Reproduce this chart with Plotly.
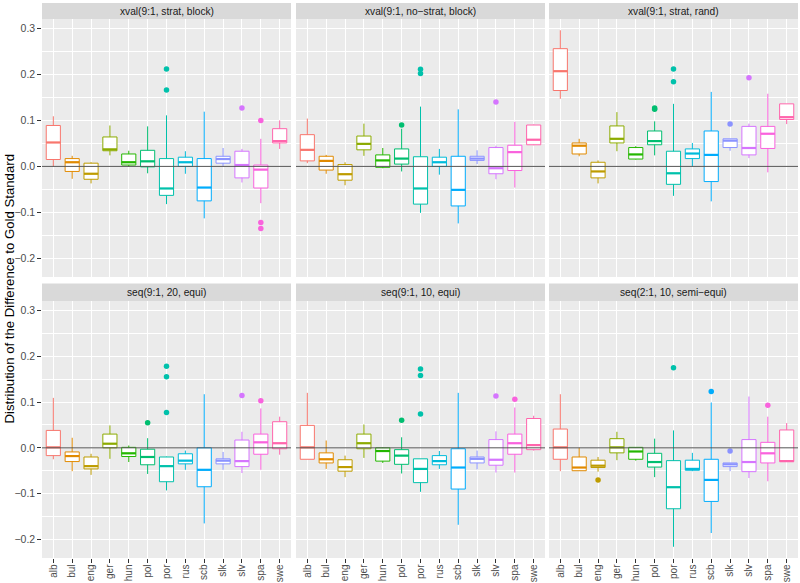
import plotly.graph_objects as go

LANGS = ["alb", "bul", "eng", "ger", "hun", "pol", "por", "rus", "scb", "slk", "slv", "spa", "swe"]
FACETS = ["xval(9:1, strat, block)", "xval(9:1, no\u2212strat, block)", "xval(9:1, strat, rand)",
          "seq(9:1, 20, equi)", "seq(9:1, 10, equi)", "seq(2:1, 10, semi\u2212equi)"]
COLORS = ["#F8766D", "#E18A00", "#BE9C00", "#8CAB00", "#24B700", "#00BE70", "#00C1AB",
          "#00BBDA", "#00ACFC", "#8B93FF", "#D575FE", "#F962DD", "#FF65AC"]

LOWER = [
    [0.0, -0.027, -0.037, 0.024, -0.001, -0.015, -0.082, -0.016, -0.113, 0.001, -0.035, -0.080, 0.038],
    [0.007, -0.016, -0.041, 0.023, -0.004, -0.011, -0.101, -0.018, -0.124, 0.005, -0.028, -0.046, 0.046],
    [0.147, 0.022, -0.037, 0.033, 0.015, 0.024, -0.064, 0.0, -0.076, 0.034, 0.018, -0.013, 0.092],
    [-0.025, -0.051, -0.059, -0.024, -0.031, -0.057, -0.093, -0.048, -0.165, -0.048, -0.055, -0.048, -0.015],
    [-0.025, -0.046, -0.064, -0.022, -0.033, -0.056, -0.096, -0.046, -0.168, -0.047, -0.054, -0.054, -0.006],
    [-0.051, -0.050, -0.052, -0.027, -0.028, -0.064, -0.216, -0.051, -0.186, -0.051, -0.066, -0.073, -0.030],
]
Q1 = [
    [0.015, -0.011, -0.028, 0.034, 0.003, -0.001, -0.063, 0.0, -0.075, 0.007, -0.025, -0.047, 0.051],
    [0.012, -0.008, -0.030, 0.036, -0.002, 0.005, -0.082, 0.0, -0.086, 0.013, -0.016, -0.009, 0.047],
    [0.165, 0.027, -0.025, 0.051, 0.016, 0.047, -0.039, 0.017, -0.033, 0.041, 0.025, 0.039, 0.102],
    [-0.017, -0.030, -0.046, 0.0, -0.019, -0.037, -0.074, -0.035, -0.085, -0.035, -0.041, -0.014, -0.002],
    [-0.025, -0.033, -0.051, -0.002, -0.029, -0.036, -0.076, -0.037, -0.090, -0.033, -0.038, -0.014, -0.004],
    [-0.025, -0.050, -0.043, -0.011, -0.025, -0.042, -0.133, -0.049, -0.117, -0.041, -0.052, -0.033, -0.030],
]
MEDIAN = [
    [0.052, 0.009, -0.016, 0.037, 0.009, 0.011, -0.048, 0.009, -0.046, 0.016, 0.003, -0.007, 0.055],
    [0.036, 0.012, -0.017, 0.049, 0.013, 0.017, -0.048, 0.009, -0.051, 0.017, -0.004, 0.031, 0.058],
    [0.207, 0.045, -0.011, 0.060, 0.026, 0.055, -0.015, 0.028, 0.025, 0.056, 0.040, 0.071, 0.107],
    [0.001, -0.018, -0.040, 0.009, -0.012, -0.020, -0.040, -0.028, -0.048, -0.028, -0.029, 0.012, 0.010],
    [0.001, -0.025, -0.042, 0.010, -0.007, -0.017, -0.046, -0.029, -0.043, -0.024, -0.026, 0.010, 0.006],
    [0.001, -0.043, -0.039, 0.001, -0.008, -0.031, -0.086, -0.046, -0.070, -0.036, -0.031, -0.012, -0.029],
]
Q3 = [
    [0.089, 0.017, 0.007, 0.064, 0.027, 0.035, 0.017, 0.020, 0.017, 0.022, 0.033, 0.003, 0.082],
    [0.069, 0.022, 0.004, 0.066, 0.025, 0.038, 0.021, 0.020, 0.022, 0.022, 0.041, 0.046, 0.090],
    [0.256, 0.051, 0.009, 0.088, 0.041, 0.077, 0.033, 0.038, 0.077, 0.060, 0.087, 0.087, 0.136],
    [0.038, -0.009, -0.020, 0.030, 0.001, -0.003, -0.020, -0.013, 0.0, -0.024, 0.017, 0.030, 0.057],
    [0.049, -0.011, -0.026, 0.030, 0.0, -0.004, -0.024, -0.017, -0.002, -0.020, 0.018, 0.030, 0.064],
    [0.041, -0.020, -0.027, 0.020, 0.001, -0.012, -0.028, -0.027, -0.025, -0.033, 0.018, 0.012, 0.039],
]
UPPER = [
    [0.109, 0.023, 0.009, 0.089, 0.034, 0.087, 0.111, 0.033, 0.119, 0.040, 0.038, 0.060, 0.100],
    [0.104, 0.025, 0.009, 0.093, 0.040, 0.082, 0.130, 0.038, 0.124, 0.035, 0.045, 0.097, 0.091],
    [0.296, 0.060, 0.013, 0.118, 0.044, 0.098, 0.136, 0.051, 0.162, 0.060, 0.093, 0.158, 0.136],
    [0.109, 0.022, -0.013, 0.049, 0.005, 0.021, -0.019, -0.006, 0.117, -0.009, 0.035, 0.086, 0.068],
    [0.120, 0.016, -0.017, 0.051, 0.001, 0.023, -0.024, -0.007, 0.120, -0.006, 0.036, 0.088, 0.070],
    [0.117, 0.0, -0.020, 0.035, 0.001, 0.020, 0.038, -0.011, 0.099, -0.033, 0.112, 0.068, 0.054],
]
OUTLIERS = [
    {"por": [0.212, 0.166], "slv": [0.127], "spa": [0.100, -0.122, -0.135]},
    {"pol": [0.090], "por": [0.211, 0.202], "slv": [0.140]},
    {"pol": [0.127, 0.124], "por": [0.212, 0.184], "slk": [0.092], "slv": [0.193]},
    {"pol": [0.055], "por": [0.178, 0.155, 0.077], "slv": [0.114], "spa": [0.103]},
    {"pol": [0.060], "por": [0.172, 0.158, 0.074], "slv": [0.113], "spa": [0.106]},
    {"eng": [-0.070], "por": [0.175], "scb": [0.123], "slk": [-0.007], "spa": [0.093]},
]

YTICKS = [-0.2, -0.1, 0.0, 0.1, 0.2, 0.3]
YTICKTEXT = ["\u22120.2", "\u22120.1", "0.0", "0.1", "0.2", "0.3"]

FONT = "Liberation Sans, Arial, Helvetica, sans-serif"
BOXW = 0.75

fig = go.Figure()

W, H = 800, 583
ML, MR, MT, MB = 42, 2, 3, 25
PW = W - ML - MR
PH = H - MT - MB
col_px = [(0, 249), (254, 503), (507, 756)]
xdoms = [[a / PW, b / PW] for a, b in col_px]
ydoms = [[(PH - 258 - 16) / PH, (PH - 16) / PH], [0.0, 257 / PH]]
strip_doms = [[(PH - 16) / PH, 1.0], [257 / PH, (257 + 17.5) / PH]]

positions = list(range(1, len(LANGS) + 1))

for p in range(6):
    k = p + 1
    xa = "x" if k == 1 else f"x{k}"
    ya = "y" if k == 1 else f"y{k}"
    for i, lang in enumerate(LANGS):
        fig.add_trace(go.Box(
            x=[positions[i]], q1=[Q1[p][i]], median=[MEDIAN[p][i]], q3=[Q3[p][i]],
            lowerfence=[LOWER[p][i]], upperfence=[UPPER[p][i]],
            width=BOXW, whiskerwidth=0, boxpoints=False,
            fillcolor="white", line=dict(color=COLORS[i], width=1),
            xaxis=xa, yaxis=ya, showlegend=False, hoverinfo="skip"))
        fig.add_trace(go.Scatter(
            x=[positions[i] - BOXW / 2, positions[i] + BOXW / 2],
            y=[MEDIAN[p][i], MEDIAN[p][i]], mode="lines",
            line=dict(color=COLORS[i], width=2.2),
            xaxis=xa, yaxis=ya, showlegend=False, hoverinfo="skip"))
    ox, oy, oc = [], [], []
    for lang, vals in OUTLIERS[p].items():
        i = LANGS.index(lang)
        for v in vals:
            ox.append(positions[i]); oy.append(v); oc.append(COLORS[i])
    fig.add_trace(go.Scatter(x=ox, y=oy, mode="markers",
                             marker=dict(color=oc, size=5.5, line=dict(width=0)),
                             xaxis=xa, yaxis=ya, showlegend=False, hoverinfo="skip"))

layout = dict(
    width=W, height=H,
    margin=dict(l=ML, r=MR, t=MT, b=MB, pad=0),
    paper_bgcolor="white", plot_bgcolor="#EBEBEB",
    font=dict(family=FONT, color="#4D4D4D", size=10.5),
    showlegend=False,
    shapes=[], annotations=[],
)

for p in range(6):
    k = p + 1
    row, col = p // 3, p % 3
    xkey = "xaxis" if k == 1 else f"xaxis{k}"
    ykey = "yaxis" if k == 1 else f"yaxis{k}"
    xa_ref = "x" if k == 1 else f"x{k}"
    ya_ref = "y" if k == 1 else f"y{k}"
    layout[xkey] = dict(
        domain=xdoms[col], anchor=ya_ref, range=[0.4, len(LANGS) + 0.6],
        tickmode="array", tickvals=positions, ticktext=LANGS,
        showticklabels=(row == 1), ticks="outside" if row == 1 else "",
        ticklen=3.5, tickcolor="#333333", tickwidth=1, tickangle=-90,
        ticklabelstandoff=-2,
        tickfont=dict(size=10, color="#4D4D4D", family=FONT),
        showgrid=True, gridcolor="white", gridwidth=1.1,
        zeroline=False, showline=False, fixedrange=True, automargin=False,
    )
    layout[ykey] = dict(
        domain=ydoms[row], anchor=xa_ref, range=[-0.2405, 0.3205],
        tickmode="array", tickvals=YTICKS, ticktext=YTICKTEXT,
        showticklabels=(col == 0), ticks="outside" if col == 0 else "",
        ticklen=3.7, tickcolor="#333333", tickwidth=1,
        tickfont=dict(size=10.5, color="#4D4D4D", family=FONT),
        showgrid=True, gridcolor="white", gridwidth=1.1,
        minor=dict(showgrid=True, gridcolor="white", gridwidth=0.5, dtick=0.05, tick0=0.05),
        zeroline=False, showline=False, fixedrange=True, automargin=False,
    )
    layout["shapes"].append(dict(type="rect", xref="paper", yref="paper",
                                 x0=xdoms[col][0], x1=xdoms[col][1],
                                 y0=strip_doms[row][0], y1=strip_doms[row][1],
                                 fillcolor="#D9D9D9", line=dict(width=0), layer="below"))
    layout["annotations"].append(dict(text=FACETS[p], xref="paper", yref="paper",
                                      x=(xdoms[col][0] + xdoms[col][1]) / 2,
                                      y=(strip_doms[row][0] + strip_doms[row][1]) / 2,
                                      showarrow=False, xanchor="center", yanchor="middle",
                                      font=dict(size=10.2, color="#1A1A1A", family=FONT)))
    layout["shapes"].append(dict(type="line", xref=f"{xa_ref} domain", yref=ya_ref,
                                 x0=0, x1=1, y0=0, y1=0,
                                 line=dict(color="#555555", width=1), layer="above"))

layout["annotations"].append(dict(
    text="Distribution of the Difference to Gold Standard",
    xref="paper", yref="paper", x=(8.5 - ML) / PW, y=(PH - (289 - MT)) / PH,
    textangle=-90, showarrow=False, xanchor="center", yanchor="middle",
    font=dict(size=13.2, color="black", family=FONT)))

fig.update_layout(**layout)
fig.write_html("out.html", config={"displayModeBar": False},
               post_script="document.body.style.margin='0px';document.body.style.padding='0px';"
                           "document.body.style.overflow='hidden';")
